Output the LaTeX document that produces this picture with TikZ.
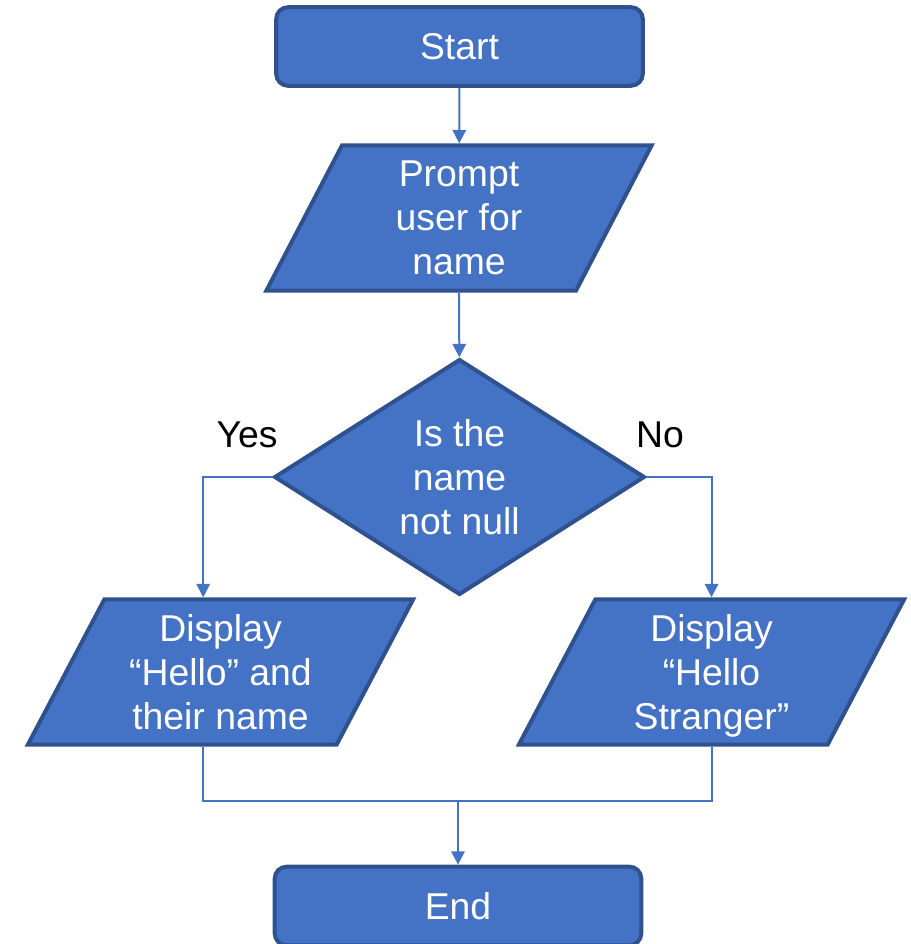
\documentclass[tikz,border=0pt]{standalone}
\usepackage{fontspec}
\setmainfont{Liberation Sans}
\usepackage{tikz}
\usetikzlibrary{shapes.geometric,arrows.meta,calc}
\definecolor{boxblue}{HTML}{4472C4}
\definecolor{edgeblue}{HTML}{2F528F}
\tikzset{
  block/.style={draw=edgeblue, fill=boxblue, line width=3pt, text=white, align=center,
    font=\fontsize{28}{33}\selectfont},
  terminal/.style={block, rounded corners=9pt, minimum width=275pt, minimum height=59pt},
  io/.style={block, trapezium, trapezium left angle=58.3, trapezium right angle=121.7,
    trapezium stretches body=true, minimum width=289pt, minimum height=109pt, text depth=0pt},
  decision/.style={block, diamond, minimum width=278pt, minimum height=170pt, inner sep=0pt},
  flow/.style={draw=boxblue, line width=1.5pt, -{Triangle[width=10pt,length=10pt]}},
  plain/.style={draw=boxblue, line width=1.5pt},
  answer/.style={font=\fontsize{28}{33}\selectfont},
}
\begin{document}
\begin{tikzpicture}[x=0.75pt,y=-0.75pt]
		\useasboundingbox (0,0) rectangle (910,944);
		% Top
		\node[terminal] (Start) at (459.5,46.5) {Start} ;
		\node[io] (Prompt) at (459,218) {Prompt\\user for\\name} ;
		\node[decision] (Check) at (459.5,477) {Is the\\name\\not null} ;
		% Branches
		\node[io] (Hello) at (220.5,672) {Display\\“Hello” and\\their name} ;
		\node[io] (Stranger) at (711.5,672) {Display\\“Hello\\Stranger”} ;
		\node[answer] (Yes) at (247,435) {Yes} ;
		\node[answer] (No) at (660,435) {No} ;
		% Bottom
		\node[terminal] (End) at (458,906) {End} ;
		\coordinate (Join) at (458,801) ;
		
		\draw[flow] (Start) -- (Prompt) ;
		\draw[flow] (Prompt) -- (Check) ;
		\draw[flow] (Check.west) -| ([xshift=-13pt]Hello.north) ;
		\draw[flow] (Check.east) -| (Stranger.north) ;
		\draw[plain] ([xshift=-13pt]Hello.south) |- (Join) -| (Stranger.south) ;
		\draw[flow] (Join) -- (End) ;
	\end{tikzpicture}
\end{document}
